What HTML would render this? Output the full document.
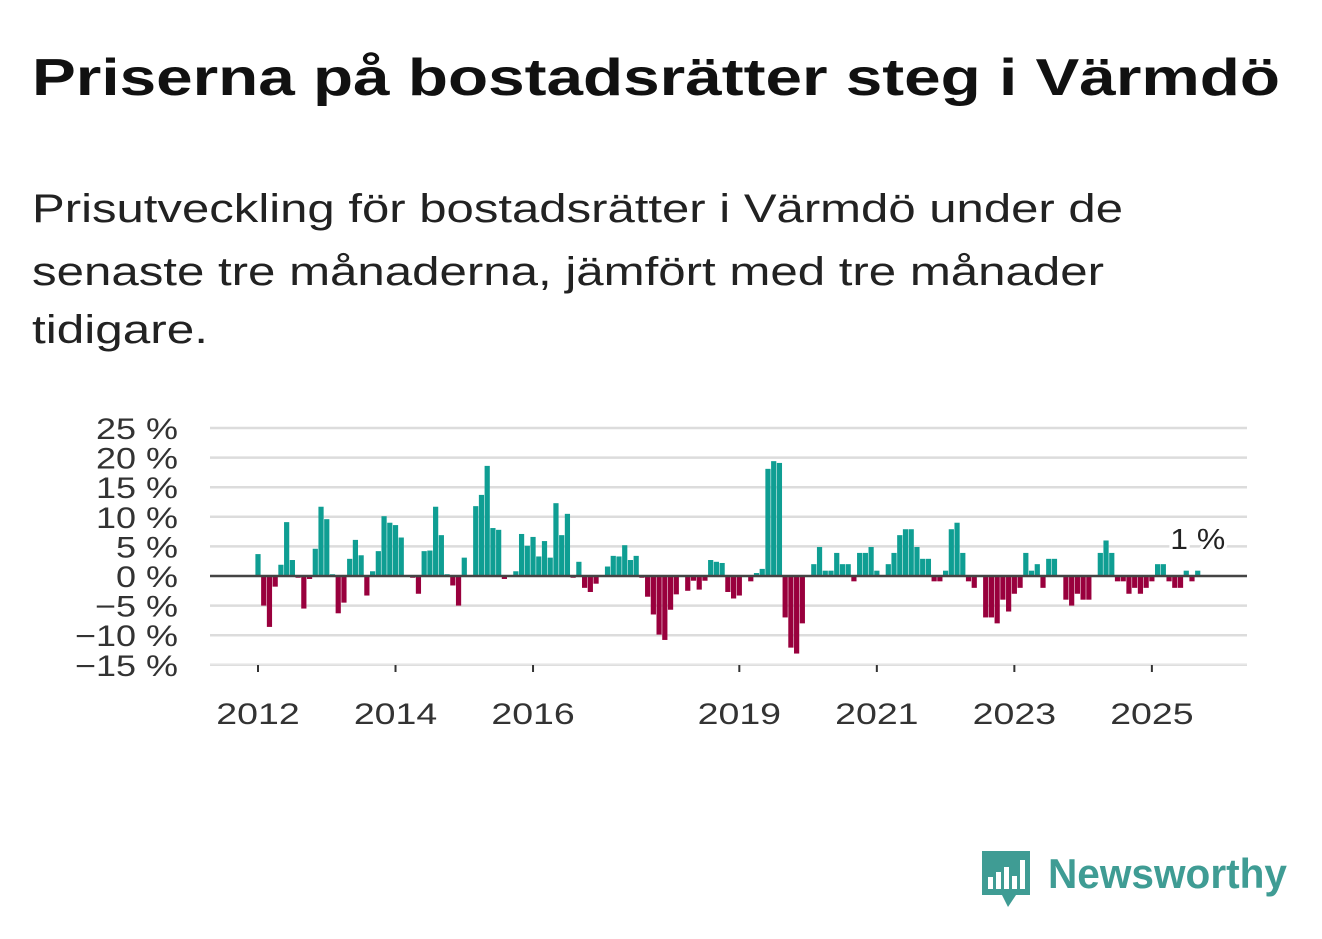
<!DOCTYPE html>
<html><head><meta charset="utf-8"><style>
body{margin:0;background:#fff}
svg{display:block;font-family:"Liberation Sans",sans-serif}
</style></head><body>
<svg id="chart" width="1322" height="939" viewBox="0 0 1322 939">
<text x="32" y="95" font-size="52" font-weight="bold" fill="#111" textLength="1248" lengthAdjust="spacingAndGlyphs">Priserna på bostadsrätter steg i Värmdö</text>
<text x="32" y="222" font-size="40" fill="#222" textLength="1091" lengthAdjust="spacingAndGlyphs">Prisutveckling för bostadsrätter i Värmdö under de</text>
<text x="32" y="285" font-size="40" fill="#222" textLength="1072" lengthAdjust="spacingAndGlyphs">senaste tre månaderna, jämfört med tre månader</text>
<text x="32" y="343" font-size="40" fill="#222" textLength="176" lengthAdjust="spacingAndGlyphs">tidigare.</text>
<g id="grid"></g>
<g id="bars"></g>
<g id="axes"></g>
<g>
<path d="M982 851h48v44h-14l-8 12-6-12h-20z" fill="#3f9c94"/>
<rect x="988" y="877" width="5" height="12" fill="#fff"/>
<rect x="996" y="872" width="5" height="17" fill="#fff"/>
<rect x="1004" y="867" width="5" height="22" fill="#fff"/>
<rect x="1012" y="876" width="5" height="13" fill="#fff"/>
<rect x="1020" y="860" width="5" height="29" fill="#fff"/>
<text x="1048" y="888" font-size="42" font-weight="bold" fill="#3f9c94" textLength="239" lengthAdjust="spacingAndGlyphs">Newsworthy</text>
</g>
</svg>
<script>
const values = [3.7,-5,-8.6,-1.8,1.9,9.1,2.7,-0.3,-5.5,-0.5,4.6,11.7,9.6,0.3,-6.3,-4.5,2.9,6.1,3.5,-3.3,0.8,4.2,10.1,9.0,8.6,6.5,0,-0.3,-3.0,4.2,4.3,11.7,6.9,0.3,-1.6,-5.0,3.1,0,11.8,13.7,18.6,8.1,7.8,-0.5,0,0.8,7.1,5.1,6.6,3.3,
5.9,3.1,12.3,6.9,10.5,-0.3,2.4,-2.0,-2.7,-1.3,0,1.6,3.4,3.3,5.2,2.7,3.4,-0.3,-3.5,-6.5,-9.9,-10.8,-5.7,-3.1,0,-2.5,-0.8,-2.3,-0.8,2.7,2.4,2.2,-2.7,-3.8,-3.3,0,-0.9,0.5,1.2,18.1,19.4,19.1,-7.0,-12.1,-13.1,-8.0,0,2.0,4.9,0.9,
0.9,3.9,2.0,2.0,-0.9,3.9,3.9,4.9,0.9,0,2.0,3.9,6.9,7.9,7.9,4.9,2.9,2.9,-0.9,-0.9,0.9,7.9,9.0,3.9,-0.9,-2.0,0,-7,-7,-8,-4,-6,-3,-2,3.9,0.9,2.0,-2,2.9,2.9,0,-4,-5,-3,-4,-4,0,3.9,6,3.9,-0.9,-0.9,-3,-2,-3,-2,-0.9,2,2,-0.9,-2,-2,0.9,-0.9,0.9];
const yTicks = [25,20,15,10,5,0,-5,-10,-15];
const yearTicks = [2012,2014,2016,2019,2021,2023,2025];
const lastLabel = "1 %";
const NS="http://www.w3.org/2000/svg";
const x0=210,x1=1247,y0=576,pxPer=5.92;
const y=v=>y0-v*pxPer;
const xm=i=>258+i*5.73;
const xy=yr=>xm((yr-2012)*12);
function mk(t,a,p){const e=document.createElementNS(NS,t);for(const k in a)e.setAttribute(k,a[k]);p.appendChild(e);return e;}
const grid=document.getElementById('grid'),bars=document.getElementById('bars'),axes=document.getElementById('axes');
yTicks.forEach(v=>{
  if(v!==0){const l=mk('line',{x1:x0,x2:x1,y1:y(v),y2:y(v),stroke:'#dcdcdc','stroke-width':2.5},grid);
  
  }
  const t=mk('text',{x:0,y:0,'font-size':30,'text-anchor':'end',fill:'#333',transform:`translate(178,${y(v)+11}) scale(1.2,1)`},axes);
  t.textContent=(v<0?'\u2212'+(-v):v)+' %';
  
  
});
const bl=mk('line',{x1:x0,x2:x1,y1:664.5,y2:664.5,stroke:'#e6e6e6','stroke-width':1.5},grid);


values.forEach((v,i)=>{
  const r=mk('rect',{x:xm(i)-2.6,width:5.2,y:Math.min(y(v),y0),height:Math.abs(y(v)-y0),fill:v>=0?'#0f9e93':'#99003d'},bars);
  
  
});
const z=mk('line',{x1:x0,x2:x1,y1:y0,y2:y0,stroke:'#444','stroke-width':2.5},axes);


yearTicks.forEach(yr=>{
  const tk=mk('line',{x1:xy(yr),x2:xy(yr),y1:665,y2:672,stroke:'#333','stroke-width':2},axes);
  
  
  const t=mk('text',{x:0,y:0,'font-size':30,'text-anchor':'middle',fill:'#333',transform:`translate(${xy(yr)},724) scale(1.25,1)`},axes);
  t.textContent=yr;
  
  
});
const li=values.length-1;
const lb=mk('text',{x:0,y:0,'font-size':29,'text-anchor':'middle',fill:'#222',stroke:'#fff','stroke-width':6,'paint-order':'stroke',transform:`translate(${xm(li)},549) scale(1.1,1)`},axes);
lb.textContent=lastLabel;


</script>
</body></html>
